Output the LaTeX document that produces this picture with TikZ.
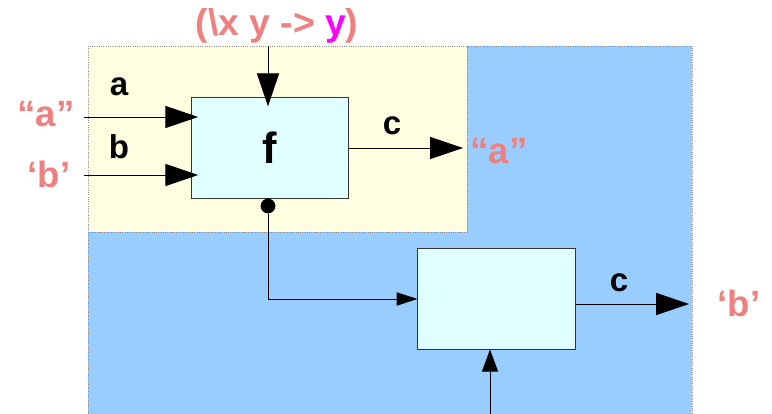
\documentclass[tikz,border=0pt]{standalone}
\usepackage{fontspec}
\setmainfont{Liberation Sans}
\usetikzlibrary{positioning,arrows.meta}
\definecolor{coral}{RGB}{240,128,128}
\definecolor{hilite}{RGB}{255,0,255}
\definecolor{outer}{RGB}{153,204,255}
\definecolor{inner}{RGB}{255,254,224}
\definecolor{boxfill}{RGB}{224,255,255}
\definecolor{edge}{RGB}{140,140,140}

\begin{document}
\begin{tikzpicture}[x=0.025cm, y=-0.025cm,
    region/.style={draw=edge, densely dotted, line width=0.6pt},
    fbox/.style={draw=black!80, fill=boxfill, line width=0.7pt,
      minimum width=3.925cm, minimum height=2.5cm, inner sep=0pt},
    var/.style={font=\bfseries\fontsize{23.5}{25}\selectfont},
    lit/.style={font=\bfseries\fontsize{26}{28}\selectfont, text=coral},
    big/.style={-{Triangle[length=0.82cm, width=0.55cm]}, line width=0.7pt},
    small/.style={-{Triangle[length=0.52cm, width=0.33cm]}, line width=0.7pt},
    mid/.style={-{Triangle[length=0.55cm, width=0.4cm]}, line width=0.7pt}]
  \useasboundingbox (0,0) rectangle (772,414);
  % the two scopes
  \fill[outer] (88,46) rectangle (692,414);
  \draw[region] (88,414) -- (88,46) -- (692,46) -- (692,414);
  \draw[region, fill=inner] (88,46) rectangle (467,232);

  \node[fbox] (f) at (270,148) {\bfseries\fontsize{31}{33}\selectfont f};
  \node[fbox] (g) at (496.5,299) {};

  \node[lit, font=\bfseries\fontsize{26.5}{28}\selectfont] (lam) at (277,26)
    {(\textbackslash x y -> \textcolor{hilite}{y})};
  \node[var] (la) at (119,87) {a};
  \node[var] (lb) at (119,147) {b};
  \node[var] (lc) at (392,126) {c};
  \node[var] (ld) at (619,283) {c};
  \node[lit] (qa) at (46,114) {“a”};
  \node[lit] (qb) at (49,174) {‘b’};
  \node[lit] (ra) at (499,151) {“a”};
  \node[lit] (rb) at (739,303) {‘b’};

  \coordinate (top) at (268,46);
  \coordinate (ain) at (84,117);
  \coordinate (bin) at (84,175);
  \coordinate (fout) at (463,148);
  \coordinate (gout) at (689,304);
  \coordinate (gin) at (490,414);
  \node[circle, fill=black, inner sep=0pt, minimum size=0.37cm] (tap) at (268,206) {};

  \draw[big, shorten >=-0.22cm] (top) -- (top |- f.north);
  \draw[big, shorten >=-0.18cm] (ain) -- (ain -| f.west);
  \draw[big, shorten >=-0.18cm] (bin) -- (bin -| f.west);
  \draw[big] (f.east |- fout) -- (fout);
  \draw[line width=0.7pt] (f.south -| tap) -- (tap);
  \draw[small] (tap) |- (g.west);
  \draw[big] (g.east |- gout) -- (gout);
  \draw[mid] (gin) -- (gin |- g.south);
\end{tikzpicture}
\end{document}
